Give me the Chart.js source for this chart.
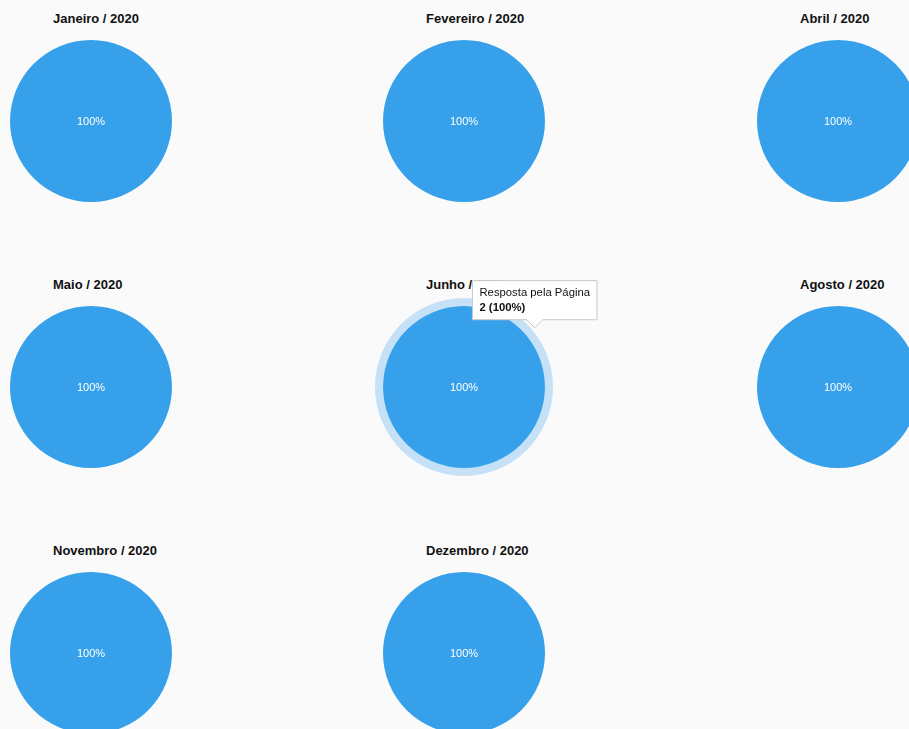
<!DOCTYPE html>
<html>
<head>
<meta charset="utf-8">
<script src="https://cdn.jsdelivr.net/npm/chart.js@4.4.0/dist/chart.umd.min.js"></script>
<style>
    html, body { margin: 0; padding: 0; background: #fafafa; overflow: hidden; }
    body { width: 909px; height: 729px; position: relative; }
    .cell { position: absolute; width: 373px; height: 266px; }
    .cell h3 {
        position: absolute; left: 53px; top: 11px; margin: 0;
        font: bold 13px Arial, "Liberation Sans", sans-serif; color: #111; white-space: nowrap;
    }
    .cell canvas { position: absolute; left: 0; top: 0; }
</style>
</head>
<body>
<div id="grid"></div>
<script>

// months shown on the page
const months = ["Janeiro / 2020", "Fevereiro / 2020", "Abril / 2020", "Maio / 2020",
                "Junho / 2020", "Agosto / 2020", "Novembro / 2020", "Dezembro / 2020"];

// one slice per month
const sliceLabels = ["Resposta pela Página"];
const answers = [2, 2, 2, 2, 2, 2, 2, 2];

const hoveredMonth = 4;  // Junho

const pieColor = "#36a1ea";
const cellLeft = [0, 373, 747];
const cellTop = [0, 266, 532];


// white % label in the slice
const centerLabel = {
    id: "centerLabel",
    afterDatasetsDraw(chart) {
        const ctx = chart.ctx;
        const data = chart.data.datasets[0].data;
        const total = data.reduce((a, b) => a + b, 0);
        chart.getDatasetMeta(0).data.forEach((arc, i) => {
            const pct = Math.round(data[i] / total * 100);
            let p = { x: arc.x, y: arc.y };
            if (arc.circumference < Math.PI * 2 - 0.001) p = arc.tooltipPosition();
            ctx.save();
            ctx.fillStyle = "#fff";
            ctx.font = "11px Arial, 'Liberation Sans', sans-serif";
            ctx.textAlign = "center";
            ctx.textBaseline = "alphabetic";
            ctx.fillText(pct + "%", p.x, p.y + 4);
            ctx.restore();
        });
    }
};

// light ring round a hovered slice
const hoverRing = {
    id: "hoverRing",
    beforeDatasetsDraw(chart) {
        const ctx = chart.ctx;
        chart.getActiveElements().forEach(a => {
            const arc = a.element;
            ctx.save();
            ctx.beginPath();
            ctx.arc(arc.x, arc.y, arc.outerRadius + 8, arc.startAngle, arc.endAngle);
            ctx.arc(arc.x, arc.y, arc.outerRadius, arc.endAngle, arc.startAngle, true);
            ctx.closePath();
            ctx.fillStyle = "#c4e1f8";
            ctx.fill();
            ctx.restore();
        });
    }
};

Chart.Tooltip.positioners.edge = function (items) {
    if (!items.length) return false;
    const el = items[0].element;
    const ang = -39 * Math.PI / 180;
    const r = el.outerRadius + 10;
    return { x: el.x + r * Math.cos(ang), y: el.y + r * Math.sin(ang) };
};


months.forEach((m, i) => {

    const cell = document.createElement("div");
    cell.className = "cell";
    cell.style.left = cellLeft[i % 3] + "px";
    cell.style.top = cellTop[Math.floor(i / 3)] + "px";

    const h = document.createElement("h3");
    h.textContent = m;
    cell.appendChild(h);

    const cv = document.createElement("canvas");
    cv.width = 373;
    cv.height = 266;
    cell.appendChild(cv);
    document.getElementById("grid").appendChild(cell);

    const chart = new Chart(cv, {
        type: "pie",
        data: {
            labels: sliceLabels,
            datasets: [{
                data: [answers[i]],
                backgroundColor: pieColor,
                hoverBackgroundColor: pieColor,
                borderWidth: 0,
                hoverOffset: 0
            }]
        },
        options: {
            responsive: false,
            animation: false,
            events: [],
            layout: { padding: { left: 10, top: 40, right: 201, bottom: 64 } },
            plugins: {
                legend: { display: false },
                tooltip: {
                    position: "edge",
                    xAlign: "center",
                    yAlign: "bottom",
                    backgroundColor: "#fff",
                    borderColor: "#c8c8c8",
                    borderWidth: 1,
                    cornerRadius: 0,
                    caretSize: 8,
                    caretPadding: 2,
                    displayColors: false,
                    padding: { x: 7, y: 5 },
                    titleColor: "#111",
                    bodyColor: "#111",
                    titleFont: { family: "Arial", size: 11.3, weight: "normal" },
                    bodyFont: { family: "Arial", size: 11.3, weight: "bold" },
                    titleMarginBottom: 2,
                    callbacks: {
                        title: items => items[0].label,
                        label: item => {
                            const total = item.dataset.data.reduce((a, b) => a + b, 0);
                            return item.raw + " (" + Math.round(item.raw / total * 100) + "%)";
                        }
                    }
                }
            }
        },
        plugins: [hoverRing, centerLabel]
    });

    if (i === hoveredMonth) {
        const act = [{ datasetIndex: 0, index: 0 }];
        chart.setActiveElements(act);
        chart.tooltip.setActiveElements(act, { x: 0, y: 0 });
        chart.update();
    }

});

</script>
</body>
</html>
